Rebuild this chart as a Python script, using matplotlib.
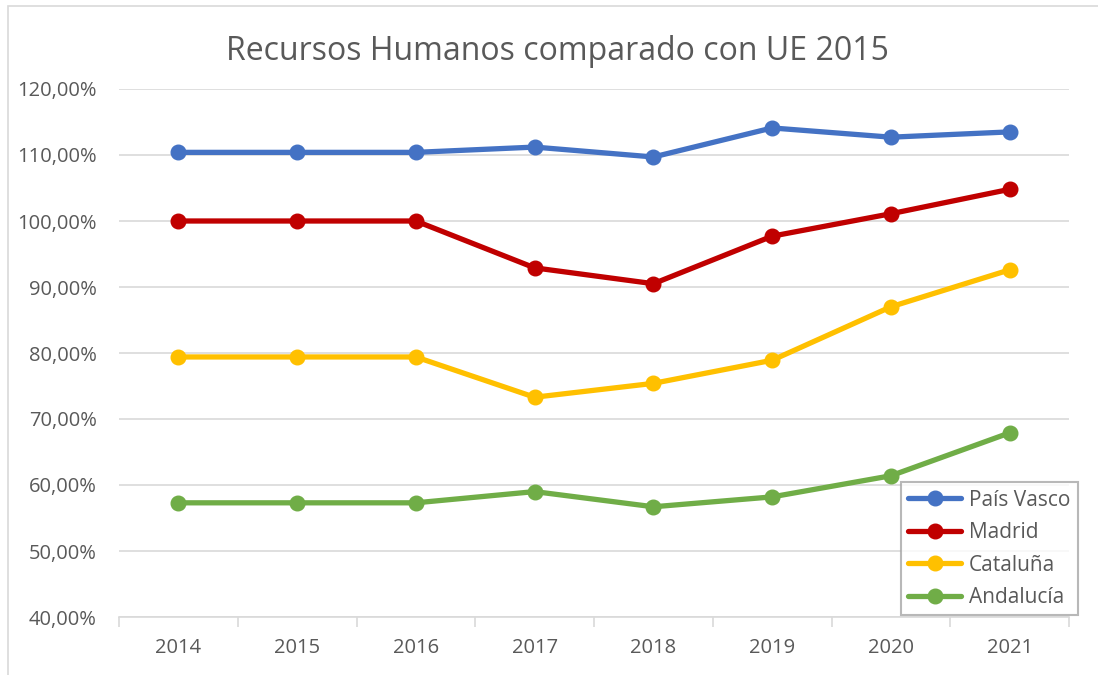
import matplotlib
matplotlib.use("Agg")
import matplotlib.pyplot as plt
from matplotlib.patches import Rectangle

years = ["2014", "2015", "2016", "2017", "2018", "2019", "2020", "2021"]
pais_vasco = [110.4, 110.4, 110.4, 111.2, 109.7, 114.1, 112.7, 113.5]
madrid = [100.0, 100.0, 100.0, 92.9, 90.5, 97.7, 101.1, 104.8]
cataluna = [79.4, 79.4, 79.4, 73.3, 75.4, 78.9, 87.0, 92.6]
andalucia = [57.3, 57.3, 57.3, 59.0, 56.7, 58.2, 61.4, 67.9]
series_names = ["País Vasco", "Madrid", "Cataluña", "Andalucía"]
colors = ["#4472C4", "#C00000", "#FFC000", "#70AD47"]
y_ticks = [40, 50, 60, 70, 80, 90, 100, 110, 120]

plt.rcParams['font.family'] = ['Open Sans', 'DejaVu Sans']

fig = plt.figure(figsize=(10.98, 6.75), dpi=100)
fig.patches.append(Rectangle((8/1098, -0.01), 1.1, 1 - 6/675 + 0.01, transform=fig.transFigure,
                             fill=False, edgecolor="#d9d9d9", linewidth=1.2))
ax = fig.add_axes([119/1098, 1 - 617/675, 950/1098, 528/675])

x = list(range(len(years)))
for vals, name, c in zip([pais_vasco, madrid, cataluna, andalucia], series_names, colors):
    ax.plot(x, vals, color=c, linewidth=3.8, marker='o', markersize=10.5, label=name,
            solid_capstyle='round', zorder=3)

ax.set_xlim(-0.5, len(years) - 0.5)
ax.set_ylim(40, 120)
ax.set_yticks(y_ticks)
ax.set_yticklabels([f"{v:.2f}".replace('.', ',') + "%" for v in y_ticks])
ax.set_xticks(x)
ax.set_xticklabels(years)
ax.set_xticks([i - 0.5 for i in range(len(years) + 1)], minor=True)

ax.grid(axis='y', color="#d9d9d9", linewidth=1.2, zorder=0)
for s in ['left', 'right', 'top']:
    ax.spines[s].set_visible(False)
ax.spines['bottom'].set_color("#d9d9d9")
ax.spines['bottom'].set_linewidth(1.2)
ax.tick_params(axis='y', length=0, pad=16, labelsize=14.5, labelcolor="#595959")
ax.tick_params(axis='x', which='major', length=0, pad=15, labelsize=14.5, labelcolor="#595959")
ax.tick_params(axis='x', which='minor', length=7, width=1.2, color="#d9d9d9")

fig.text(557/1098, 1 - 52/675, "Recursos Humanos comparado con UE 2015", fontsize=23,
         color="#595959", ha='center', va='center')

leg = ax.legend(loc='lower right', bbox_to_anchor=(1.009, 0.003), fontsize=15,
                frameon=True, fancybox=False, edgecolor="#a6a6a6", handlelength=2.5,
                labelspacing=0.55, borderpad=0.35, handletextpad=0.4, borderaxespad=0)
leg.get_frame().set_linewidth(1.5)
for t in leg.get_texts():
    t.set_color("#595959")

fig.savefig("out.png", dpi=100)
